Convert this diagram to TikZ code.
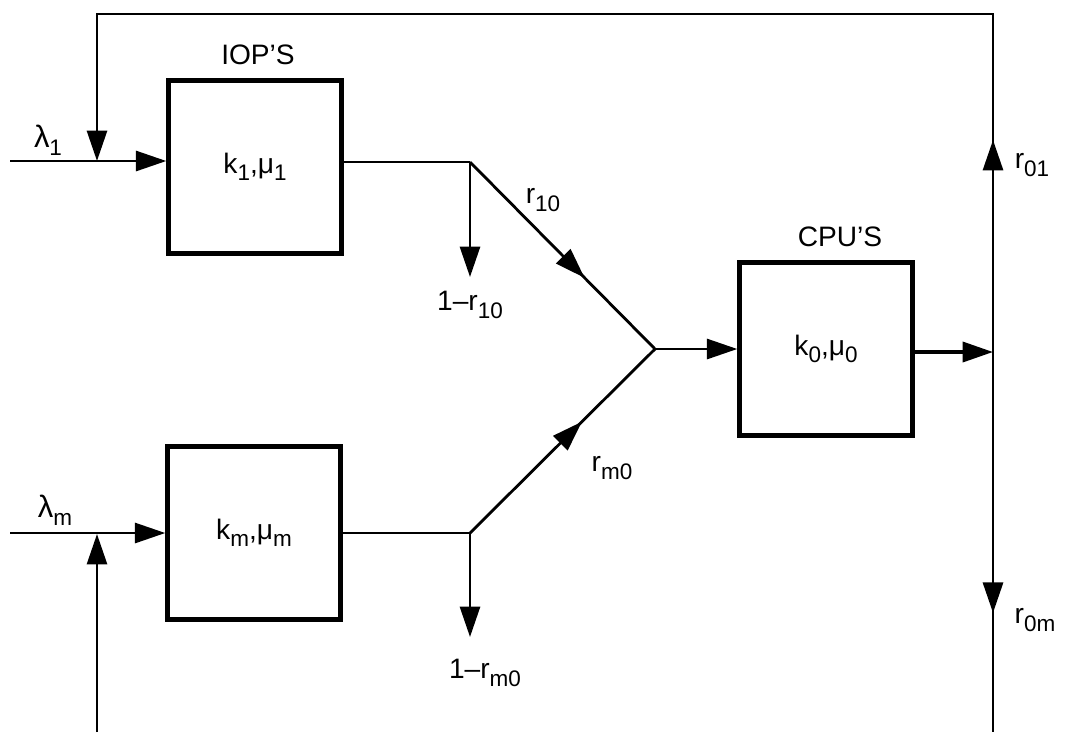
\documentclass[tikz,border=0pt]{standalone}
\usepackage{fontspec}
\setmainfont{Liberation Sans}
\usetikzlibrary{arrows.meta,decorations.markings}
\newcommand{\lsub}[1]{\raisebox{-0.5ex}{\fontsize{8}{9}\selectfont #1}}

\begin{document}
\begin{tikzpicture}[x=0.0125cm,y=-0.0125cm,line width=1pt,
        font=\fontsize{10}{12}\selectfont,
        box/.style={draw,line width=1.6pt,minimum size=2.16cm,inner sep=0pt},
        tip/.style={-{Triangle[length=3.8mm,width=2.5mm]}},
        midtip/.style={postaction={decorate},decoration={markings,
            mark=at position #1 with {\arrow{Triangle[length=3.8mm,width=2.5mm]}}}}]
    \useasboundingbox (0,0) rectangle (1066,732);
    % boxes
    \node[box] (box1) at (255,167) {k\lsub{1},μ\lsub{1}};
    \node[box] (boxm) at (254,533) {k\lsub{m},μ\lsub{m}};
    \node[box] (cpu) at (826,349) {k\lsub{0},μ\lsub{0}};
    \node (iop) at (258,55) {IOP'S};
    \node (cpus) at (840,237) {CPU'S};
    % points on the lines
    \coordinate (in1) at (10,161);
    \coordinate (inm) at (10,533);
    \coordinate (j1) at (470,162);
    \coordinate (jm) at (470,533);
    \coordinate (d1) at (470,277);
    \coordinate (dm) at (470,637);
    \coordinate (join) at (655,349);
    \coordinate (rj) at (993,352);
    \coordinate (rbot) at (993,732);
    \coordinate (tr) at (993,14);
    \coordinate (tl) at (97,14);
    \coordinate (fb1) at (97,161);
    \coordinate (fbm) at (97,534);
    \coordinate (bl) at (97,732);
    % inputs
    \draw[tip] (in1) -- (in1 -| box1.west);
    \draw[tip] (inm) -- (boxm.west);
    \draw[tip] (bl) -- (fbm);
    \node (lam1) at (48,140) {\fontsize{11}{12}\selectfont λ\lsub{1}};
    \node (lamm) at (55,510) {\fontsize{11}{12}\selectfont λ\lsub{m}};
    % split after the IOP's
    \draw (box1.east |- j1) -- (j1);
    \draw (boxm.east) -- (jm);
    \draw[tip] (j1) -- (d1);
    \draw[tip] (jm) -- (dm);
    \draw[midtip=0.62] (j1) -- (join);
    \draw[midtip=0.605] (jm) -- (join);
    \draw[tip] (join) -- (join -| cpu.west);
    \node (r10) at (543,200) {r\lsub{10}};
    \node (nr10) at (470,305) {1–r\lsub{10}};
    \node (rm0) at (612,468) {r\lsub{m0}};
    \node (nrm0) at (485,673) {1–r\lsub{m0}};
    % CPU output and feedback
    \draw[tip,line width=1.3pt] (cpu.east |- rj) -- (rj);
    \draw[tip,midtip=2.65cm] (rj) -- (tr) -- (tl) -- (fb1);
    \draw[midtip=3.26cm] (rj) -- (rbot);
    \node (r01) at (1032,165) {r\lsub{01}};
    \node (r0m) at (1035,620) {r\lsub{0m}};
\end{tikzpicture}
\end{document}
